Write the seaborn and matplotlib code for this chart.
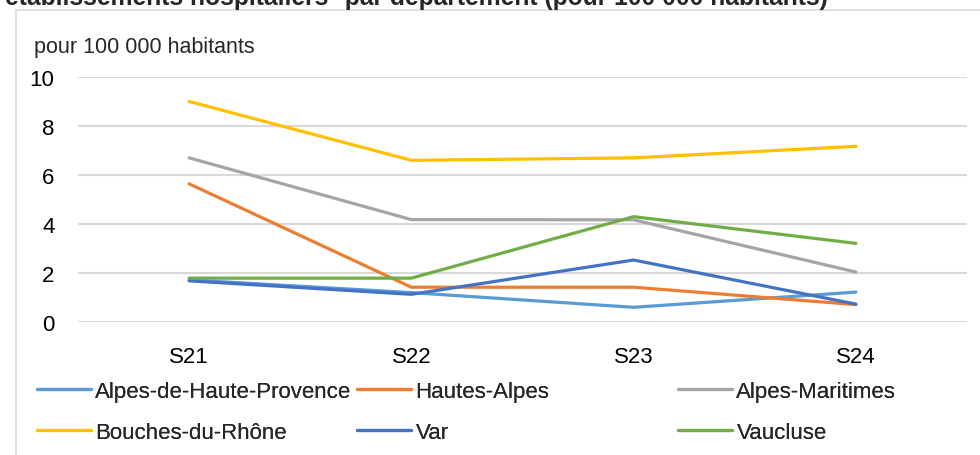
import matplotlib
matplotlib.use("Agg")
import matplotlib.pyplot as plt
import seaborn as sns
import pandas as pd
from matplotlib.patches import Rectangle

weeks = ["S21", "S22", "S23", "S24"]
departements = ["Alpes-de-Haute-Provence", "Hautes-Alpes", "Alpes-Maritimes",
                "Bouches-du-Rhône", "Var", "Vaucluse"]
alpes_hp = [1.72, 1.20, 0.60, 1.22]
hautes_alpes = [5.64, 1.42, 1.42, 0.71]
alpes_maritimes = [6.70, 4.18, 4.17, 2.04]
bouches_du_rhone = [9.00, 6.60, 6.70, 7.17]
var = [1.68, 1.13, 2.53, 0.73]
vaucluse = [1.79, 1.79, 4.30, 3.21]
colors = ["#5B9BD5", "#ED7D31", "#A5A5A5", "#FFC000", "#4472C4", "#70AD47"]

series = [alpes_hp, hautes_alpes, alpes_maritimes, bouches_du_rhone, var, vaucluse]
rows = []
for d, vals in zip(departements, series):
    for i, (w, v) in enumerate(zip(weeks, vals)):
        rows.append({"dep": d, "x": i, "week": w, "val": v})
df = pd.DataFrame(rows)

sns.set_style("white")
FONT = ["Liberation Sans", "DejaVu Sans"]
plt.rcParams["font.family"] = FONT

W, H = 980, 456
fig = plt.figure(figsize=(W / 100, H / 100), dpi=100)
ax = fig.add_axes([78 / W, 1 - 323 / H, (967 - 78) / W, (323 - 78) / H])

sns.lineplot(data=df, x="x", y="val", hue="dep", hue_order=departements,
             palette=colors, linewidth=2.3, ax=ax, legend=True, sort=False)
handles, labels = ax.get_legend_handles_labels()
ax.get_legend().remove()

ax.set_xlim(-0.5, 3.5)
ax.set_ylim(0, 10)
ax.set_yticks([0, 2, 4, 6, 8, 10])
ax.set_xticks(range(len(weeks)))
ax.set_xticklabels(weeks)
ax.set_xlabel("")
ax.set_ylabel("")
ax.grid(axis="y", color="#D9D9D9", linewidth=1.5)
ax.set_axisbelow(True)
for s in ax.spines.values():
    s.set_visible(False)
ax.tick_params(axis="y", length=0, pad=17, labelsize=16, labelcolor="#000000")
ax.tick_params(axis="x", length=0, pad=17, labelsize=16, labelcolor="#000000")

# chart frame
fig.add_artist(Rectangle((15.5 / W, -0.05), 1.0, 1 - 11 / H + 0.05,
                         transform=fig.transFigure, fill=False,
                         edgecolor="#D9D9D9", linewidth=1.2))

# clipped title
fig.text(5 / W, 1 - 5 / H,
         "établissements hospitaliers* par département (pour 100 000 habitants)",
         fontsize=17.7, fontweight="bold", ha="left", va="baseline")
fig.text(34 / W, 1 - 47 / H, "pour 100 000 habitants", fontsize=15.5,
         ha="left", va="center")

# legend in three columns
col_x = [37, 357, 678]
for c in range(3):
    idx = [c, c + 3]
    leg = fig.legend([handles[i] for i in idx], [labels[i] for i in idx],
                     loc="upper left", bbox_to_anchor=(col_x[c] / W, 1 - 382 / H),
                     frameon=False, fontsize=16, handlelength=2.43,
                     handletextpad=0.2, labelspacing=0.9, borderaxespad=0,
                     borderpad=0)
    fig.add_artist(leg)

fig.savefig("out.png", dpi=100)
